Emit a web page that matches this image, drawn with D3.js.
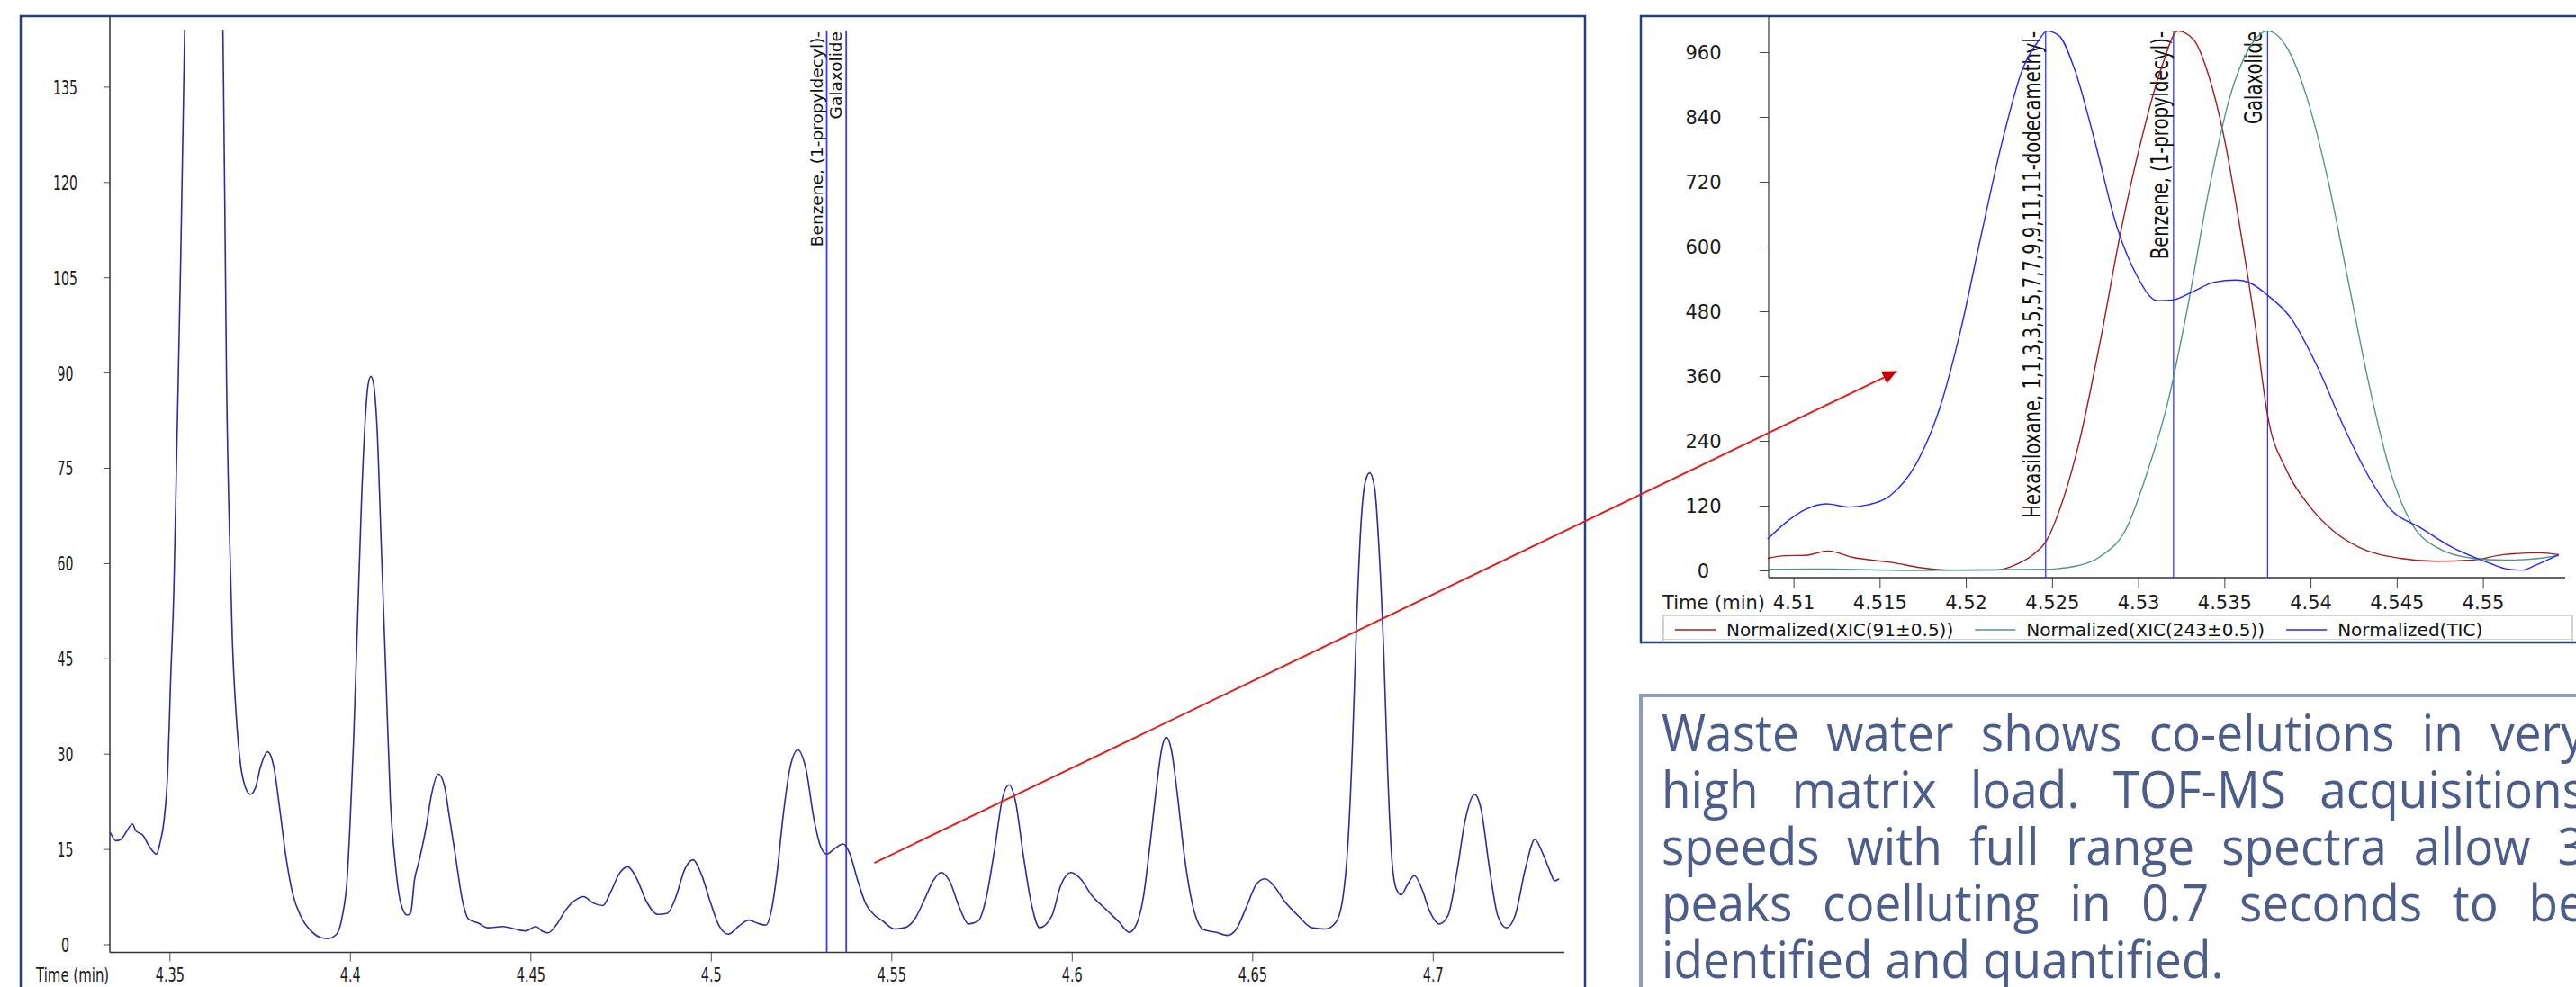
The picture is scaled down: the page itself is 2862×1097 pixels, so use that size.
<!DOCTYPE html>
<html>
<head>
<meta charset="utf-8">
<script src="https://cdn.jsdelivr.net/npm/d3@7"></script>
<style>
  html, body { margin: 0; padding: 0; background: #fff; overflow: hidden; }
  svg { display: block; }
</style>
</head>
<body>
<svg id="chart" width="2862" height="1097"></svg>
<script>
// ---------------- Full chromatogram (TIC), time in minutes ----------------
const ticTime = [
  4.3336, 4.3352, 4.3365, 4.3398, 4.3406, 4.3427, 4.3444, 4.3464, 4.3473, 4.3485,
  4.3495, 4.3503, 4.3512, 4.3520, 4.3531, 4.3542, 4.3555, 4.3595, 4.3635, 4.3648,
  4.3653, 4.3658, 4.3666, 4.3674, 4.3684, 4.3697, 4.3709, 4.3724, 4.3738, 4.3751,
  4.3772, 4.3788, 4.3805, 4.3821, 4.3842, 4.3863, 4.3892, 4.3917, 4.3938, 4.3963,
  4.3979, 4.3992, 4.4000, 4.4010, 4.4021, 4.4032, 4.4042, 4.4050, 4.4058, 4.4066,
  4.4075, 4.4087, 4.4100, 4.4112, 4.4125, 4.4141, 4.4158, 4.4168, 4.4179, 4.4191,
  4.4212, 4.4224, 4.4245, 4.4262, 4.4274, 4.4291, 4.4312, 4.4328, 4.4357, 4.4382,
  4.4424, 4.4457, 4.4486, 4.4515, 4.4532, 4.4549, 4.4571, 4.4598, 4.4621, 4.4647,
  4.4674, 4.4701, 4.4723, 4.4746, 4.4770, 4.4795, 4.4821, 4.4853, 4.4880, 4.4902,
  4.4929, 4.4951, 4.4973, 4.5000, 4.5022, 4.5049, 4.5076, 4.5105, 4.5130, 4.5152,
  4.5168, 4.5183, 4.5201, 4.5219, 4.5241, 4.5263, 4.5286, 4.5304, 4.5321, 4.5344,
  4.5366, 4.5384, 4.5406, 4.5429, 4.5455, 4.5473, 4.5509, 4.5536, 4.5563, 4.5594,
  4.5616, 4.5638, 4.5661, 4.5688, 4.5714, 4.5741, 4.5763, 4.5786, 4.5808, 4.5826,
  4.5844, 4.5866, 4.5888, 4.5911, 4.5945, 4.5969, 4.5997, 4.6026, 4.6054, 4.6093,
  4.6131, 4.6159, 4.6178, 4.6198, 4.6217, 4.6236, 4.6250, 4.6262, 4.6276, 4.6293,
  4.6312, 4.6336, 4.6365, 4.6398, 4.6431, 4.6455, 4.6484, 4.6512, 4.6536, 4.6560,
  4.6589, 4.6627, 4.6665, 4.6703, 4.6732, 4.6751, 4.6765, 4.6778, 4.6789, 4.6801,
  4.6813, 4.6825, 4.6839, 4.6851, 4.6864, 4.6875, 4.6886, 4.6899, 4.6913, 4.6928,
  4.6949, 4.6970, 4.6990, 4.7018, 4.7042, 4.7066, 4.7090, 4.7116, 4.7133, 4.7157,
  4.7180, 4.7204, 4.7228, 4.7257, 4.7283, 4.7304, 4.7324, 4.7338, 4.7350
];
const ticIntensity = [
  17.6, 16.3, 16.5, 18.9, 17.9, 17.1, 15.4, 14.2, 15.8, 19.6,
  27.2, 41.5, 55.7, 77.5, 107.9, 143.9, 188, 250, 212, 143.9,
  117.4, 88.9, 65.2, 48.1, 36.7, 28.2, 24.9, 23.6, 24.6, 27.7,
  30.3, 28.2, 21.5, 14.4, 7.8, 4.5, 2.1, 1.1, 0.9, 1.6,
  4.5, 10.2, 18.7, 32, 51, 69.9, 82.3, 88, 89.4, 88,
  81.3, 62.3, 41.5, 22.5, 13, 6.4, 4.6, 4.9, 10.2, 13,
  18.7, 23, 26.8, 24.9, 20.6, 14.4, 6.8, 4, 3.3, 2.6,
  2.8, 2.4, 2.1, 2.8, 2.1, 1.8, 3.0, 5.4, 6.8, 7.5,
  6.5, 6.1, 8.3, 11.1, 12.2, 10.3, 6.8, 4.7, 4.9, 7.3,
  12, 13.3, 11.1, 6.4, 3, 1.6, 2.8, 3.8, 3.3, 3,
  5.4, 11.1, 20.6, 27.7, 30.6, 27.7, 19.6, 15.4, 14.2, 15.1,
  15.8, 14.4, 10.2, 6.4, 4.5, 3.8, 2.4, 2.6, 3.8, 7.3,
  10, 11.3, 10, 5.9, 3.2, 3.7, 7.3, 14.9, 23, 25.1,
  22.5, 13.9, 6.4, 2.6, 4.5, 9.2, 11.3, 10.2, 7.8, 5.6,
  3.5, 1.9, 3, 7.3, 15.8, 25.3, 31, 32.6, 30.6, 23.4,
  13.9, 5.9, 2.3, 1.9, 1.4, 2.3, 5.9, 9.5, 10.3, 9.2,
  6.8, 4.5, 2.6, 2.4, 3.5, 7.3, 15.8, 32, 50.9, 66.1,
  72.8, 74.2, 71.8, 62.3, 46.2, 27.2, 13.9, 8.7, 7.8, 9.2,
  10.8, 8.7, 5.4, 3.2, 4.5, 11.1, 19.6, 23.6, 21.5, 12,
  4.5, 2.6, 4.5, 12, 16.5, 14.4, 11.6, 10, 10.3
];
const mainXTicks = [4.35, 4.4, 4.45, 4.5, 4.55, 4.6, 4.65, 4.7];
const mainYTicks = [0, 15, 30, 45, 60, 75, 90, 105, 120, 135];
const mainMarkerNames = ["Benzene, (1-propyldecyl)-", "Galaxolide"];
const mainMarkerTimes = [4.5321, 4.5375];

// ---------------- Inset: normalized traces around the co-elution ----------------
const xic91Time = [
  4.5085, 4.5095, 4.5107, 4.5120, 4.5134, 4.5158, 4.5173, 4.5191, 4.5218, 4.5230,
  4.5239, 4.5247, 4.5255, 4.5266, 4.5278, 4.5290, 4.5302, 4.5314, 4.5323, 4.5332,
  4.5341, 4.5350, 4.5359, 4.5368, 4.5375, 4.5386, 4.5398, 4.5413, 4.5428, 4.5452,
  4.5473, 4.5494, 4.5512, 4.5533, 4.5544
];
const xic91Value = [
  22.5, 27.3, 28, 36.1, 24.5, 14.3, 5.5, 0.7, 0.7, 12.3,
  29.3, 56.6, 118, 240.7, 424.8, 629.3, 799.8, 936.1, 998.9, 983.9,
  915.7, 799.8, 636.1, 452, 288.4, 186.1, 124.8, 73.6, 43, 22.5,
  17, 19.1, 29.3, 32.7, 29.3
];
const xic243Time = [
  4.5085, 4.5113, 4.5173, 4.5245, 4.5263, 4.5278, 4.5293, 4.5305, 4.5317, 4.5329,
  4.5341, 4.5353, 4.5365, 4.5375, 4.5386, 4.5398, 4.5410, 4.5422, 4.5434, 4.5446,
  4.5458, 4.5473, 4.5494, 4.5512, 4.5533, 4.5544
];
const xic243Value = [
  2, 2.7, 0, 2, 7.5, 25.9, 77, 179.3, 308.9, 492.9,
  704.3, 874.8, 970.2, 998.9, 970.2, 874.8, 724.8, 533.9, 343, 186.1,
  90.7, 43, 22.5, 19.1, 22.5, 28
];
const ticNormTime = [
  4.5085, 4.5095, 4.5107, 4.5119, 4.5132, 4.5143, 4.5156, 4.5171, 4.5185, 4.5197,
  4.5209, 4.5221, 4.5233, 4.5242, 4.5247, 4.5254, 4.5263, 4.5275, 4.5287, 4.5299,
  4.5311, 4.5320, 4.5332, 4.5344, 4.5357, 4.5365, 4.5375, 4.5389, 4.5404, 4.5419,
  4.5434, 4.5447, 4.5463, 4.5482, 4.5502, 4.5515, 4.5523, 4.5530, 4.5544
];
const ticNormValue = [
  58, 87.3, 113, 123.4, 117.3, 121.4, 138.4, 196.4, 302, 445.2,
  622.5, 793, 929.3, 980.4, 998.9, 990.7, 929.3, 793, 643, 547.5,
  499.8, 501.1, 516.8, 533.9, 538, 532.5, 510, 465.7, 377, 268,
  172.5, 111.1, 80.5, 43, 15.7, 2, 0.7, 8.9, 29.3
];
const insetSeriesNames = ["Normalized(XIC(91\u00B10.5))", "Normalized(XIC(243\u00B10.5))", "Normalized(TIC)"];
const insetSeriesColors = ["#a11d1d", "#4f968a", "#2424ff"];
const insetXTicks = [4.51, 4.515, 4.52, 4.525, 4.53, 4.535, 4.54, 4.545, 4.55];
const insetYTicks = [0, 120, 240, 360, 480, 600, 720, 840, 960];
const insetMarkerNames = ["Hexasiloxane, 1,1,3,3,5,5,7,7,9,9,11,11-dodecamethyl-", "Benzene, (1-propyldecyl)-", "Galaxolide"];
const insetMarkerTimes = [4.52463, 4.53205, 4.53751];

// Callout arrow: from a point of the full trace to a point of the inset
const calloutFrom = { t: 4.5453, v: 12.8 };
const calloutTo = { t: 4.5160, v: 369 };

const descriptionLines = [
  "Waste water shows co-elutions in very",
  "high matrix load. TOF-MS acquisitions",
  "speeds with full range spectra allow 3",
  "peaks coelluting in 0.7 seconds to be",
  "identified and quantified."
];

// ---------------- drawing ----------------
const svg = d3.select("#chart");
const FONT = "'DejaVu Sans', Verdana, sans-serif";

const defs = svg.append("defs");

// ===== Left panel =====
const L = { left: 23, top: 18, right: 1761, plotL: 122, plotR: 1738, axisY: 1058.6, clipTop: 33 };
const xMain = d3.scaleLinear().domain([4.35, 4.7]).range([188.3, 1591.8]);
const yMain = d3.scaleLinear().domain([0, 135]).range([1049.5, 96.4]);

svg.append("rect")
  .attr("x", L.left).attr("y", L.top)
  .attr("width", L.right - L.left).attr("height", 1200)
  .attr("fill", "#fff").attr("stroke", "#22407c").attr("stroke-width", 2.5);

defs.append("clipPath").attr("id", "clipMain").append("rect")
  .attr("x", L.plotL).attr("y", L.clipTop)
  .attr("width", L.plotR - L.plotL).attr("height", L.axisY - L.clipTop);

// axes (labels of the full-trace axes use a narrow rendering)
const gxMain = svg.append("g").attr("transform", `translate(0,${L.axisY})`)
  .call(d3.axisBottom(xMain).tickValues(mainXTicks).tickSize(10).tickSizeOuter(0).tickFormat(d3.format("~g")));
gxMain.select(".domain").remove();
gxMain.selectAll(".tick line").attr("stroke", "#555");
gxMain.selectAll(".tick text")
  .attr("font-family", FONT).attr("font-size", 22).attr("fill", "#1a1a1a")
  .attr("x", 0).attr("y", 0).attr("dy", null)
  .attr("transform", "translate(0,32.5) scale(0.66,1)");

const gyMain = svg.append("g").attr("transform", `translate(${L.plotL},0)`)
  .call(d3.axisLeft(yMain).tickValues(mainYTicks).tickSize(7).tickSizeOuter(0));
gyMain.select(".domain").remove();
gyMain.selectAll(".tick line").attr("stroke", "#555");
gyMain.selectAll(".tick text")
  .attr("font-family", FONT).attr("font-size", 22).attr("fill", "#1a1a1a")
  .attr("text-anchor", "middle").attr("x", 0).attr("dy", "0.36em")
  .attr("transform", "translate(-49.5,0) scale(0.64,1)");

svg.append("line").attr("x1", L.plotL).attr("x2", L.plotR).attr("y1", L.axisY).attr("y2", L.axisY)
  .attr("stroke", "#333").attr("stroke-width", 1.5);
svg.append("line").attr("x1", L.plotL).attr("x2", L.plotL).attr("y1", L.top).attr("y2", L.axisY)
  .attr("stroke", "#333").attr("stroke-width", 1.5);

svg.append("text")
  .attr("transform", `translate(40,${L.axisY + 32.5}) scale(0.68,1)`)
  .attr("font-family", FONT).attr("font-size", 22).attr("fill", "#1a1a1a").text("Time (min)");

// markers
mainMarkerTimes.forEach((t, i) => {
  const x = xMain(t);
  svg.append("line").attr("x1", x).attr("x2", x).attr("y1", 34).attr("y2", L.axisY)
    .attr("stroke", "#3a3aff").attr("stroke-width", 1.8);
  svg.append("text")
    .attr("transform", `translate(${x - 5},35) rotate(-90) scale(1.06,1)`)
    .attr("text-anchor", "end").attr("font-family", FONT).attr("font-size", 17.5)
    .attr("fill", "#111").text(mainMarkerNames[i]);
});

// trace
const mainPts = ticTime.map((t, i) => [t, ticIntensity[i]]);
svg.append("path").datum(mainPts)
  .attr("clip-path", "url(#clipMain)")
  .attr("fill", "none").attr("stroke", "#2c2ca0").attr("stroke-width", 1.6)
  .attr("d", d3.line().x(d => xMain(d[0])).y(d => yMain(d[1])).curve(d3.curveMonotoneX));

// ===== Right panel (inset) =====
const R = { left: 1823, top: 18, right: 2868, bottom: 714, plotL: 1965, plotR: 2850, axisY: 642 };
const xIns = d3.scaleLinear().domain([4.51, 4.55]).range([1992.6, 2758.6]);
const yIns = d3.scaleLinear().domain([0, 960]).range([634, 58]);

svg.append("rect")
  .attr("x", R.left).attr("y", R.top)
  .attr("width", R.right - R.left).attr("height", R.bottom - R.top)
  .attr("fill", "#fff").attr("stroke", "#22407c").attr("stroke-width", 2.5);

const gxIns = svg.append("g").attr("transform", `translate(0,${R.axisY})`)
  .call(d3.axisBottom(xIns).tickValues(insetXTicks).tickSize(12).tickSizeOuter(0).tickFormat(d3.format("~g")));
gxIns.select(".domain").remove();
gxIns.selectAll(".tick line").attr("stroke", "#444");
gxIns.selectAll(".tick text")
  .attr("font-family", FONT).attr("font-size", 21).attr("fill", "#1a1a1a")
  .attr("dy", null).attr("y", 35);

const gyIns = svg.append("g").attr("transform", `translate(${R.plotL},0)`)
  .call(d3.axisLeft(yIns).tickValues(insetYTicks).tickSize(10).tickSizeOuter(0));
gyIns.select(".domain").remove();
gyIns.selectAll(".tick line").attr("stroke", "#444");
gyIns.selectAll(".tick text")
  .attr("font-family", FONT).attr("font-size", 21).attr("fill", "#1a1a1a")
  .attr("text-anchor", "middle").attr("x", -72.5).attr("dy", "0.36em");

svg.append("line").attr("x1", R.plotL).attr("x2", R.plotR).attr("y1", R.axisY).attr("y2", R.axisY)
  .attr("stroke", "#333").attr("stroke-width", 1.5);
svg.append("line").attr("x1", R.plotL).attr("x2", R.plotL).attr("y1", R.top).attr("y2", R.axisY)
  .attr("stroke", "#333").attr("stroke-width", 1.2);

svg.append("text").attr("x", 1847).attr("y", R.axisY + 35)
  .attr("font-family", FONT).attr("font-size", 21).attr("fill", "#1a1a1a").text("Time (min)");

// marker lines and labels
insetMarkerTimes.forEach((t, i) => {
  const x = xIns(t);
  svg.append("line").attr("x1", x).attr("x2", x).attr("y1", 35).attr("y2", R.axisY)
    .attr("stroke", "#3333ff").attr("stroke-width", 1.3);
  svg.append("text")
    .attr("transform", `translate(${x - 6},35) rotate(-90) scale(0.755,1)`)
    .attr("text-anchor", "end").attr("font-family", FONT).attr("font-size", 26)
    .attr("fill", "#111").text(insetMarkerNames[i]);
});

// traces
const insetSeries = [
  xic91Time.map((t, i) => [t, xic91Value[i]]),
  xic243Time.map((t, i) => [t, xic243Value[i]]),
  ticNormTime.map((t, i) => [t, ticNormValue[i]])
];
const insLine = d3.line().x(d => xIns(d[0])).y(d => yIns(d[1])).curve(d3.curveMonotoneX);
insetSeries.forEach((pts, i) => {
  svg.append("path").datum(pts)
    .attr("fill", "none").attr("stroke", insetSeriesColors[i]).attr("stroke-width", 1.4)
    .attr("d", insLine);
});

// legend
const lg = { x: 1848, y: 684, w: 1010, h: 29 };
svg.append("rect").attr("x", lg.x).attr("y", lg.y).attr("width", lg.w).attr("height", lg.h)
  .attr("fill", "#fff").attr("stroke", "#b8b8b8").attr("stroke-width", 1.2);
svg.append("line").attr("x1", lg.x).attr("x2", lg.x + lg.w).attr("y1", lg.y + lg.h - 2.5).attr("y2", lg.y + lg.h - 2.5)
  .attr("stroke", "#d0d0d0").attr("stroke-width", 1);
let lx = 1861;
insetSeriesNames.forEach((name, i) => {
  svg.append("line").attr("x1", lx).attr("x2", lx + 45).attr("y1", 700).attr("y2", 700)
    .attr("stroke", insetSeriesColors[i]).attr("stroke-width", 1.5);
  const t = svg.append("text").attr("x", lx + 57).attr("y", 707)
    .attr("font-family", FONT).attr("font-size", 20).attr("fill", "#111").text(name);
  lx += 57 + t.node().getComputedTextLength() + 24;
});

// ===== Callout arrow =====
defs.append("marker").attr("id", "arrowHead")
  .attr("viewBox", "0 -8 16 16").attr("refX", 16).attr("refY", 0)
  .attr("markerWidth", 16).attr("markerHeight", 16).attr("markerUnits", "userSpaceOnUse")
  .attr("orient", "auto")
  .append("path").attr("d", "M0,-7.5L16,0L0,7.5Z").attr("fill", "#c40000");
svg.append("line")
  .attr("x1", xMain(calloutFrom.t)).attr("y1", yMain(calloutFrom.v))
  .attr("x2", xIns(calloutTo.t)).attr("y2", yIns(calloutTo.v))
  .attr("stroke", "#e0201c").attr("stroke-width", 2)
  .attr("marker-end", "url(#arrowHead)");

// ===== Description box (justified paragraph) =====
svg.append("rect").attr("x", 1823).attr("y", 773).attr("width", 1100).attr("height", 400)
  .attr("fill", "#fff").attr("stroke", "#8e9ebf").attr("stroke-width", 4);

const desc = { left: 1846, right: 2872, top: 835, lineH: 63, size: 56, sx: 0.95 };
const dg = svg.append("g").attr("transform", `translate(${desc.left},0) scale(${desc.sx},1)`);
descriptionLines.forEach((line, i) => {
  const words = line.split(" ");
  const text = dg.append("text").attr("y", desc.top + i * desc.lineH)
    .attr("font-family", "'Open Sans', sans-serif").attr("font-size", desc.size)
    .attr("fill", "#4b5d8d");
  const spans = words.map(w => text.append("tspan").text(w));
  const widths = spans.map(s => s.node().getComputedTextLength());
  const sum = d3.sum(widths);
  const avail = (desc.right - desc.left) / desc.sx;
  const last = i === descriptionLines.length - 1;
  const gap = last ? desc.size * 0.26 : (avail - sum) / (words.length - 1);
  let x = 0;
  spans.forEach((s, k) => { s.attr("x", x); x += widths[k] + gap; });
});
</script>
</body>
</html>
